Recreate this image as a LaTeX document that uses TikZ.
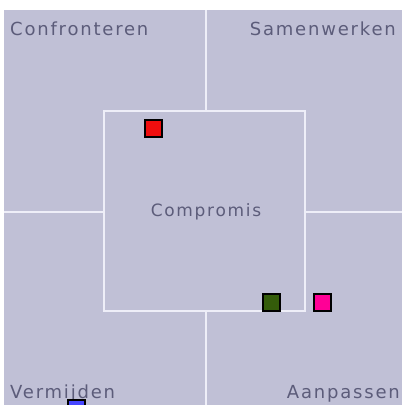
\documentclass[tikz,border=0pt]{standalone}
\usepackage{fontspec}
\usepackage{tikz}
\newfontfamily\quadfont[LetterSpace=10]{DejaVu Sans}
\definecolor{fieldbg}{RGB}{192,192,214}
\definecolor{gridline}{RGB}{238,238,248}
\definecolor{labelink}{RGB}{92,92,122}
\definecolor{markred}{RGB}{240,14,14}
\definecolor{markgreen}{RGB}{52,92,10}
\definecolor{markpink}{RGB}{255,0,150}
\definecolor{markblue}{RGB}{70,70,255}

\tikzset{
  quadlabel/.style={text=labelink,inner sep=0pt,font=\quadfont\fontsize{18}{20}\selectfont},
  marker/.style={draw=black,line width=2pt,minimum size=17pt,inner sep=0pt}
}

\begin{document}
\begin{tikzpicture}[x=1pt,y=-1pt]
  \def\W{402}
  \def\H{405}
  \useasboundingbox (0,0) rectangle (\W,\H);
  \fill[fieldbg] (4,10) rectangle (\W,\H);
  % inner square and the cross
  \draw[gridline,line width=1.6pt] (104,111) rectangle (305,311);
  \draw[gridline,line width=1.6pt] (206,10) -- (206,111);
  \draw[gridline,line width=1.6pt] (206,311) -- (206,\H);
  \draw[gridline,line width=1.6pt] (4,212) -- (104,212);
  \draw[gridline,line width=1.6pt] (305,212) -- (\W,212);
  % style labels
  \node[quadlabel,anchor=base west] (confront) at (10,35) {Confronteren};
  \node[quadlabel,anchor=base east] (samen) at (396,35) {Samenwerken};
  \node[quadlabel,anchor=base west] (vermijd) at (10,398) {Vermijden};
  \node[quadlabel,anchor=base east] (aanpas) at (400,398) {Aanpassen};
  \node[quadlabel,anchor=center,font=\quadfont\fontsize{17}{19}\selectfont]
     (compro) at (206,212) {Compromis};
  % markers
  \begin{scope}
    \clip (4,10) rectangle (\W,\H);
    \foreach \name/\x/\y/\col in {%
       red/153/128/markred,
       green/271/302/markgreen,
       pink/322/302/markpink,
       blue/76/408/markblue}{
       \node[marker,fill=\col] (\name) at (\x,\y) {};
    }
  \end{scope}
\end{tikzpicture}
\end{document}
